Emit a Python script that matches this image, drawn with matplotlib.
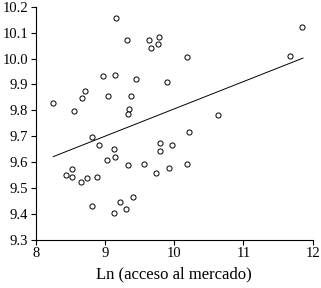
import matplotlib
matplotlib.use("Agg")
import matplotlib.pyplot as plt

x_vals = [9.160, 9.319, 9.637, 9.777, 9.658, 9.767, 10.186, 11.848, 11.666,
          8.973, 9.146, 9.445, 9.889, 8.712, 8.665, 9.045, 9.373, 8.246,
          8.553, 9.340, 9.325, 10.626, 8.805, 8.910, 9.127, 9.146, 9.026,
          9.334, 8.525, 8.434, 8.525, 8.650, 8.741, 8.877, 8.809, 9.214,
          9.406, 9.301, 9.127, 10.215, 9.788, 9.970, 9.788, 9.565, 9.738,
          9.918, 10.186]
y_vals = [10.157, 10.072, 10.071, 10.084, 10.041, 10.058, 10.006, 10.121, 10.011,
          9.934, 9.938, 9.922, 9.910, 9.873, 9.848, 9.857, 9.857, 9.828,
          9.798, 9.806, 9.785, 9.783, 9.696, 9.666, 9.652, 9.620, 9.608,
          9.588, 9.574, 9.550, 9.541, 9.522, 9.537, 9.541, 9.429, 9.447,
          9.466, 9.419, 9.404, 9.717, 9.675, 9.665, 9.644, 9.594, 9.558,
          9.578, 9.591]
fit_x = [8.25, 11.86]
fit_y = [9.621, 10.002]
x_ticks = [8, 9, 10, 11, 12]
y_ticks = [9.3, 9.4, 9.5, 9.6, 9.7, 9.8, 9.9, 10.0, 10.1, 10.2]
x_label = "Ln (acceso al mercado)"

plt.rcParams['font.family'] = ['Liberation Serif', 'DejaVu Serif']
plt.rcParams['font.size'] = 10.5

fig = plt.figure(figsize=(3.21, 2.88), dpi=100)
ax = fig.add_axes([0.112, 0.168, 0.862, 0.808])
ax.plot(x_vals, y_vals, linestyle='none', marker='o', markersize=3.7,
        markerfacecolor='white', markeredgecolor='black', markeredgewidth=0.7)
ax.plot(fit_x, fit_y, color='black', linewidth=0.7)
ax.set_xlim(8, 12)
ax.set_ylim(9.3, 10.2)
ax.set_xticks(x_ticks)
ax.set_xticklabels([str(t) for t in x_ticks])
ax.set_yticks(y_ticks)
ax.set_yticklabels([f"{t:.1f}" for t in y_ticks])
ax.spines['top'].set_visible(False)
ax.spines['right'].set_visible(False)
ax.spines['left'].set_linewidth(0.8)
ax.spines['bottom'].set_linewidth(0.8)
ax.tick_params(direction='out', length=3.6, width=0.8, pad=2)
ax.set_xlabel(x_label, labelpad=4, fontsize=12)
fig.savefig("out.png", dpi=100)
